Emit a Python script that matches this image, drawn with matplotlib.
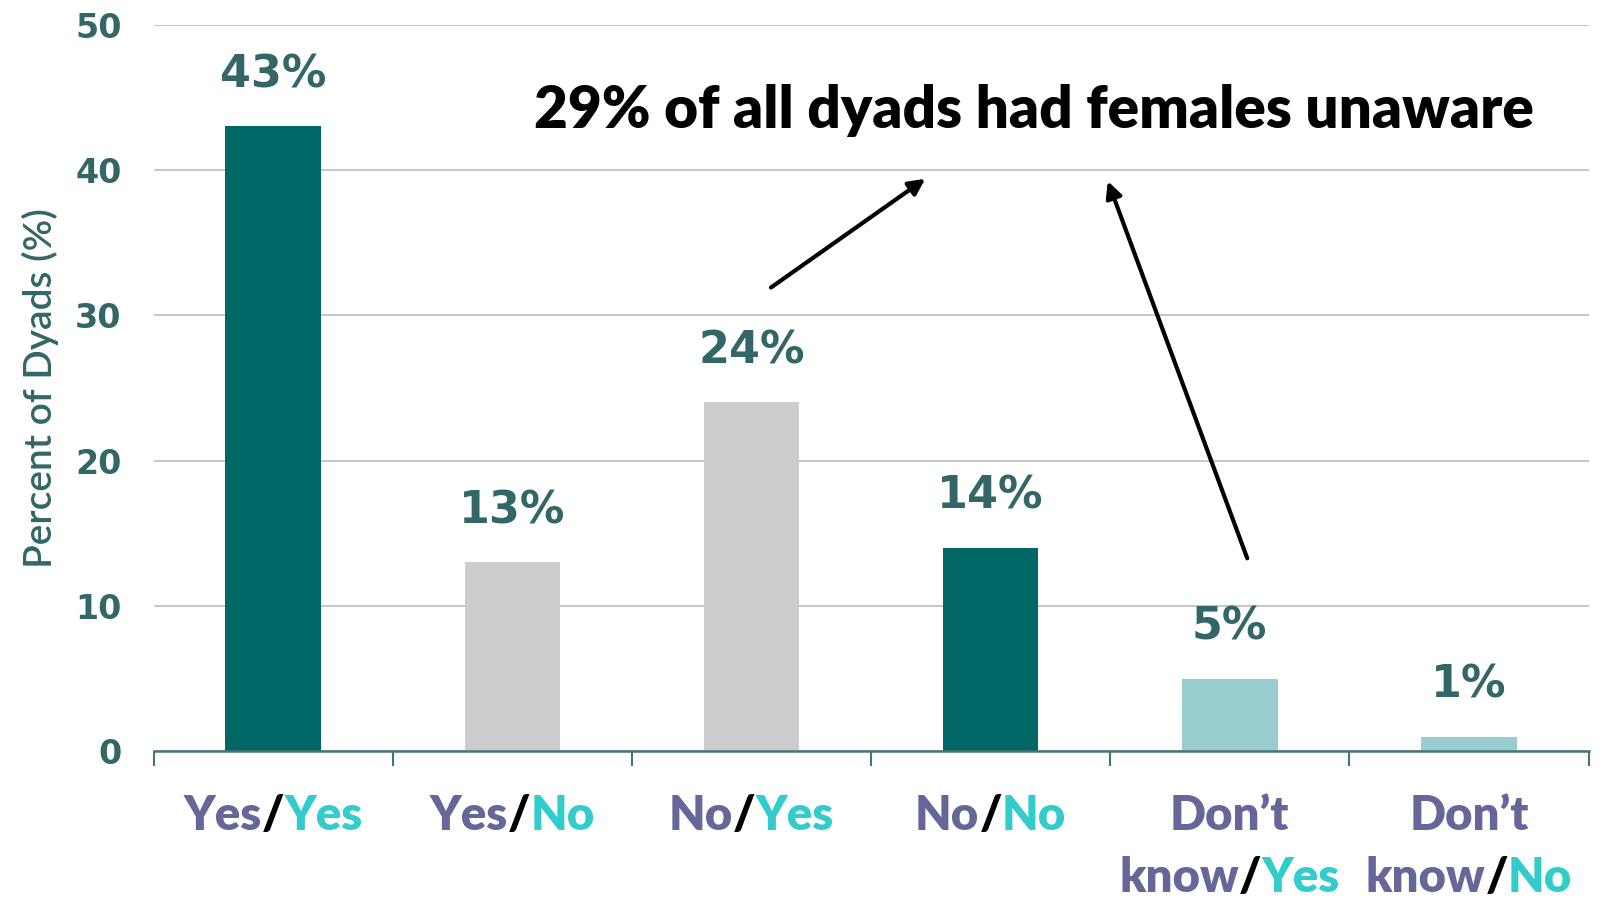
"""
Dyad awareness bar chart: percent of dyads by male/female answer pair.
"""
import matplotlib
matplotlib.use("Agg")
import matplotlib.pyplot as plt

categories = ["Yes/Yes", "Yes/No", "No/Yes", "No/No", "Don't know/Yes", "Don't know/No"]
percents = [43, 13, 24, 14, 5, 1]
value_labels = ["43%", "13%", "24%", "14%", "5%", "1%"]
bar_colors = ["#006666", "#cccccc", "#cccccc", "#006666", "#99cccc", "#99cccc"]

PURPLE = "#666699"
CYAN = "#33cccc"
TEAL_TXT = "#336666"

# each label: list of lines, each line a list of (text, colour) pieces
label_parts = [
    [[("Yes", PURPLE), ("/", "black"), ("Yes", CYAN)]],
    [[("Yes", PURPLE), ("/", "black"), ("No", CYAN)]],
    [[("No", PURPLE), ("/", "black"), ("Yes", CYAN)]],
    [[("No", PURPLE), ("/", "black"), ("No", CYAN)]],
    [[("Don\u2019t", PURPLE)], [("know", PURPLE), ("/", "black"), ("Yes", CYAN)]],
    [[("Don\u2019t", PURPLE)], [("know", PURPLE), ("/", "black"), ("No", CYAN)]],
]

fig = plt.figure(figsize=(16.07, 9.0), dpi=100)
ax = fig.add_axes([0.0956, 0.1652, 0.8929, 0.8075])

x = list(range(len(categories)))
ax.bar(x, percents, width=0.4, color=bar_colors, zorder=2)

for xi, v, lab in zip(x, percents, value_labels):
    ax.annotate(lab, (xi, v), xytext=(0, 28), textcoords="offset points",
                ha="center", va="baseline", fontsize=32, fontweight="bold",
                color=TEAL_TXT, family="DejaVu Sans")

ax.set_xlim(-0.5, 5.5)
ax.set_ylim(0, 50)
ax.set_yticks([0, 10, 20, 30, 40, 50])
ax.yaxis.grid(True, color="#c8c8c8", lw=1.5, zorder=0)
ax.set_axisbelow(True)
for s in ("left", "right", "top"):
    ax.spines[s].set_visible(False)
ax.spines["bottom"].set_color("#4a7474")
ax.spines["bottom"].set_linewidth(1.8)

ax.set_xticks([-0.5 + k for k in range(7)])
ax.set_xticklabels([])
ax.tick_params(axis="x", length=11, width=1.5, color="#4a7474", direction="out")
ax.tick_params(axis="y", length=0, pad=23)
for t in ax.get_yticklabels():
    t.set_fontsize(24)
    t.set_fontweight("bold")
    t.set_color(TEAL_TXT)
    t.set_family("DejaVu Sans")

ax.set_ylabel("Percent of Dyads (%)", fontsize=28, color=TEAL_TXT,
              family="Lato", fontweight="semibold", labelpad=12)

ax.text(3.18, 42.9, "29% of all dyads had females unaware", ha="center",
        va="baseline", fontsize=42, fontweight="heavy", family="Lato", color="black")
arrow = dict(arrowstyle="-|>", color="black", lw=3, mutation_scale=24)
ax.annotate("", xy=(2.736, 39.5), xytext=(2.072, 31.8), arrowprops=arrow)
ax.annotate("", xy=(3.486, 39.4), xytext=(4.077, 13.1), arrowprops=arrow)

# multi-coloured category labels, pieces laid out side by side
fig.canvas.draw()
renderer = fig.canvas.get_renderer()
inv = fig.transFigure.inverted()
axis_y = ax.transData.transform((0, 0))[1]
for i, lines in enumerate(label_parts):
    for k, parts in enumerate(lines):
        texts = [fig.text(0, 0, s, color=c, fontsize=34, fontweight="heavy",
                          family="Lato", va="baseline") for s, c in parts]
        widths = [t.get_window_extent(renderer).width for t in texts]
        x0 = ax.transData.transform((i, 0))[0] - sum(widths) / 2
        y = axis_y - 79 - 62 * k
        for t, w in zip(texts, widths):
            t.set_position(inv.transform((x0, y)))
            x0 += w

fig.savefig("out.png", dpi=100)
